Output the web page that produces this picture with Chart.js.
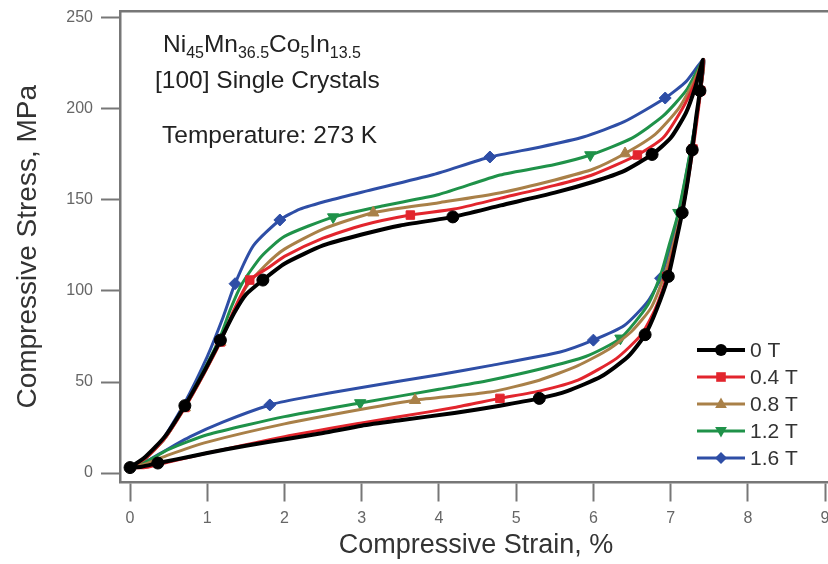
<!DOCTYPE html>
<html>
<head>
<meta charset="utf-8">
<script src="https://cdn.jsdelivr.net/npm/chart.js@4.4.1/dist/chart.umd.min.js"></script>
<style>
  html, body { margin: 0; padding: 0; background: #fff; overflow: hidden; }
  #marco { width: 828px; height: 564px; overflow: hidden; }
</style>
</head>
<body>
<div id="marco"><canvas id="grafico" width="840" height="564"></canvas></div>
<script>
/* Ejes */
var xTicks = [0, 1, 2, 3, 4, 5, 6, 7, 8, 9];
var yTicks = [0, 50, 100, 150, 200, 250];
var campos = ['0 T', '0.4 T', '0.8 T', '1.2 T', '1.6 T'];

/* Ciclos carga / descarga: deformación (%) y tensión (MPa) */
var strain0T = [0, 0.2, 0.45, 0.71, 0.95, 1.17, 1.35, 1.5, 1.72, 2.0, 2.5, 3.0, 3.5, 4.18, 4.8, 5.5, 6.0, 6.4, 6.76, 7.0, 7.2, 7.32, 7.42, 7.38, 7.33, 7.28, 7.22, 7.15, 7.06, 6.97, 6.82, 6.67, 6.45, 6.1, 5.66, 5.3, 4.79, 4.2, 3.5, 3.0, 2.5, 2.07, 1.5, 1.0, 0.6, 0.36, 0.15, 0];
var stress0T = [3, 9, 20, 37, 55, 73, 88, 98, 106, 115, 125, 131, 136, 140.7, 147, 154, 160, 166, 175, 184, 198, 212, 227, 210, 195, 177.5, 160, 143, 125, 108, 90, 76, 64, 53, 45, 41, 37, 33, 29, 26, 22, 19, 15, 11, 7.5, 5.5, 3.5, 3];
var marcas0T = [0, 3, 5, 8, 13, 18, 23, 25, 27, 29, 31, 35, 45];

var strain04T = [0, 0.2, 0.45, 0.71, 0.95, 1.17, 1.35, 1.55, 1.8, 2.0, 2.5, 3.0, 3.63, 4.2, 4.8, 5.5, 6.0, 6.57, 6.9, 7.15, 7.3, 7.43, 7.39, 7.29, 7.16, 7.05, 6.95, 6.8, 6.62, 6.3, 5.8, 5.3, 4.79, 4.2, 3.5, 3.0, 2.0, 1.0, 0.5, 0.2, 0];
var stress04T = [3, 8, 19, 36, 54, 72, 90, 106, 113, 119, 129, 136, 141.7, 145, 151, 158, 164, 174.7, 184, 200, 213, 227, 210, 178, 145, 125, 108, 90, 76, 63, 51, 45, 41, 36, 31, 27.5, 20, 11, 6, 3, 3];
var marcas04T = [3, 5, 7, 12, 17, 22, 23, 26, 32];

var strain08T = [0, 0.2, 0.45, 0.71, 0.95, 1.17, 1.35, 1.5, 1.75, 2.0, 2.5, 3.15, 4.0, 4.8, 5.5, 6.0, 6.41, 6.8, 7.1, 7.3, 7.43, 7.38, 7.28, 7.15, 7.03, 6.93, 6.75, 6.5, 6.2, 5.8, 5.3, 4.66, 3.69, 3.0, 2.0, 1.0, 0.5, 0.2, 0];
var stress08T = [3, 8, 19, 36, 54, 72, 89, 102, 114, 123, 134, 143, 148.5, 154, 161, 167, 175.5, 186, 200, 215, 227, 208, 178, 145, 125, 110, 91, 78, 68, 59, 51, 44.5, 40, 35, 27, 17, 10, 5, 3];
var marcas08T = [3, 5, 11, 16, 22, 32];

var strain12T = [0, 0.2, 0.45, 0.71, 0.95, 1.17, 1.3, 1.45, 1.7, 2.0, 2.63, 3.3, 4.0, 4.79, 5.5, 5.96, 6.5, 6.9, 7.2, 7.43, 7.37, 7.27, 7.1, 6.98, 6.88, 6.7, 6.35, 5.9, 5.3, 4.66, 4.0, 2.98, 2.0, 1.0, 0.5, 0.2, 0];
var stress12T = [3, 8, 19, 37, 56, 75, 90, 104, 119, 130, 140.6, 147, 153, 163.7, 169.5, 174.7, 184, 196, 210, 227, 205, 180, 143, 125, 110, 92, 74, 64, 57, 51, 46, 38.5, 31, 21, 13, 6, 3];
var marcas12T = [10, 15, 22, 26, 31];

var strain16T = [0, 0.2, 0.4, 0.7, 1.0, 1.2, 1.36, 1.6, 1.94, 2.2, 2.6, 3.07, 3.93, 4.66, 5.3, 5.87, 6.4, 6.93, 7.2, 7.43, 7.35, 7.25, 7.13, 7.0, 6.87, 6.7, 6.4, 6.0, 5.57, 4.66, 4.0, 3.0, 2.2, 1.81, 1.2, 0.78, 0.4, 0.15, 0];
var stress16T = [3, 8, 17, 38, 64, 85, 104, 125, 139, 145, 150, 155, 164, 173.6, 179, 184.6, 193, 206, 215, 227, 200, 175, 148, 125, 107, 94, 81, 73, 66.5, 59, 54, 47, 41, 37.4, 28, 20, 11, 5, 3];
var marcas16T = [6, 8, 13, 17, 24, 27, 33];

/* Estilo de cada serie */
var colores = ['#000000', '#e2252d', '#a98048', '#1f9249', '#2e4ea6'];
var formas = ['circle', 'rect', 'triangle', 'triangle', 'rectRot'];
var giros = [0, 0, 0, 180, 0];
var radios = [6, 6, 6.5, 6.5, 6];
var grosores = [4, 3, 3, 3, 3];

var series = [
    [strain0T, stress0T, marcas0T],
    [strain04T, stress04T, marcas04T],
    [strain08T, stress08T, marcas08T],
    [strain12T, stress12T, marcas12T],
    [strain16T, stress16T, marcas16T]
];

var datasets = series.map(function (s, k) {
    return {
        label: campos[k],
        data: s[0].map(function (x, i) { return { x: x, y: s[1][i] }; }),
        borderColor: colores[k],
        backgroundColor: colores[k],
        borderWidth: grosores[k],
        tension: 0.2,
        pointStyle: formas[k],
        rotation: giros[k],
        pointBorderWidth: 1,
        pointRadius: function (ctx) {
            return s[2].indexOf(ctx.dataIndex) >= 0 ? radios[k] : 0;
        },
        pointHoverRadius: 0
    };
});

/* Marcador pequeño para la leyenda */
function marcador(ctx, forma, giro, r, x, y) {
    ctx.save();
    ctx.translate(x, y);
    ctx.rotate(giro * Math.PI / 180);
    ctx.beginPath();
    if (forma === 'circle') {
        ctx.arc(0, 0, r, 0, 2 * Math.PI);
    } else if (forma === 'rect') {
        ctx.rect(-r * 0.8, -r * 0.8, r * 1.6, r * 1.6);
    } else if (forma === 'triangle') {
        ctx.moveTo(0, -r);
        ctx.lineTo(r * 0.9, r * 0.6);
        ctx.lineTo(-r * 0.9, r * 0.6);
        ctx.closePath();
    } else {
        ctx.moveTo(0, -r);
        ctx.lineTo(r, 0);
        ctx.lineTo(0, r);
        ctx.lineTo(-r, 0);
        ctx.closePath();
    }
    ctx.fill();
    ctx.restore();
}

/* Textos dentro del gráfico y leyenda */
var formula = [['Ni', 0], ['45', 1], ['Mn', 0], ['36.5', 1], ['Co', 0], ['5', 1], ['In', 0], ['13.5', 1]];

var notas = {
    id: 'notas',
    afterDraw: function (chart) {
        var ctx = chart.ctx;
        ctx.save();
        ctx.fillStyle = '#222';
        ctx.textBaseline = 'alphabetic';
        ctx.textAlign = 'left';
        var x = 163;
        formula.forEach(function (p) {
            ctx.font = p[1] ? '16px "Liberation Sans"' : '24.5px "Liberation Sans"';
            ctx.fillText(p[0], x, p[1] ? 58 : 52);
            x += ctx.measureText(p[0]).width;
        });
        ctx.font = '24.5px "Liberation Sans"';
        ctx.fillText('[100] Single Crystals', 155, 88);
        ctx.fillText('Temperature: 273 K', 162, 143);

        // leyenda
        ctx.font = '21px "Liberation Sans"';
        ctx.textBaseline = 'middle';
        chart.data.datasets.forEach(function (d, k) {
            var y = 350 + k * 27;
            ctx.strokeStyle = d.borderColor;
            ctx.fillStyle = d.borderColor;
            ctx.lineWidth = d.borderWidth;
            ctx.beginPath();
            ctx.moveTo(697, y);
            ctx.lineTo(745, y);
            ctx.stroke();
            marcador(ctx, d.pointStyle, d.rotation, radios[k], 721, y);
            ctx.fillStyle = '#333';
            ctx.fillText(d.label, 750, y + 1);
        });
        ctx.restore();
    }
};

var marco = document.getElementById('grafico').getContext('2d');

var grafico = new Chart(marco, {
    type: 'line',
    data: { datasets: datasets },
    plugins: [notas],
    options: {
        responsive: false,
        animation: false,
        layout: { padding: { top: 11, right: 8, left: 0, bottom: 0 } },
        plugins: {
            legend: { display: false },
            tooltip: { enabled: false }
        },
        scales: {
            x: {
                type: 'linear',
                min: -0.13,
                max: 9.09,
                afterBuildTicks: function (scale) {
                    scale.ticks = xTicks.map(function (v) { return { value: v }; });
                },
                afterFit: function (scale) {
                    scale.height = 81.5;
                    scale.paddingLeft = 0;
                    scale.paddingRight = 0;
                },
                border: { display: true, color: '#777', width: 2.5 },
                grid: { drawOnChartArea: false, drawTicks: true, tickLength: 19, tickColor: '#777', tickWidth: 2 },
                ticks: {
                    color: '#666',
                    padding: 7,
                    maxRotation: 0,
                    font: { family: 'Liberation Sans', size: 16 }
                },
                title: {
                    display: true,
                    text: 'Compressive Strain, %',
                    color: '#333',
                    padding: { top: 0, bottom: 2 },
                    font: { family: 'Liberation Sans', size: 27 }
                }
            },
            arriba: {
                type: 'linear',
                position: 'top',
                min: -0.13,
                max: 9.09,
                afterFit: function (scale) { scale.height = 0; },
                border: { display: true, color: '#777', width: 2.5 },
                grid: { display: false, drawTicks: false },
                ticks: { display: false }
            },
            y: {
                type: 'linear',
                min: -5.2,
                max: 253.8,
                afterBuildTicks: function (scale) {
                    scale.ticks = yTicks.map(function (v) { return { value: v }; });
                },
                afterFit: function (scale) {
                    scale.width = 120;
                    scale.paddingTop = 0;
                    scale.paddingBottom = 0;
                },
                border: { display: true, color: '#777', width: 2.5 },
                grid: { drawOnChartArea: false, drawTicks: true, tickLength: 19, tickColor: '#777', tickWidth: 2 },
                ticks: {
                    color: '#666',
                    padding: 8,
                    font: { family: 'Liberation Sans', size: 16 }
                },
                title: {
                    display: true,
                    text: 'Compressive Stress, MPa',
                    color: '#333',
                    padding: { top: 11, bottom: 0 },
                    font: { family: 'Liberation Sans', size: 28 }
                }
            }
        }
    }
});
</script>
</body>
</html>
